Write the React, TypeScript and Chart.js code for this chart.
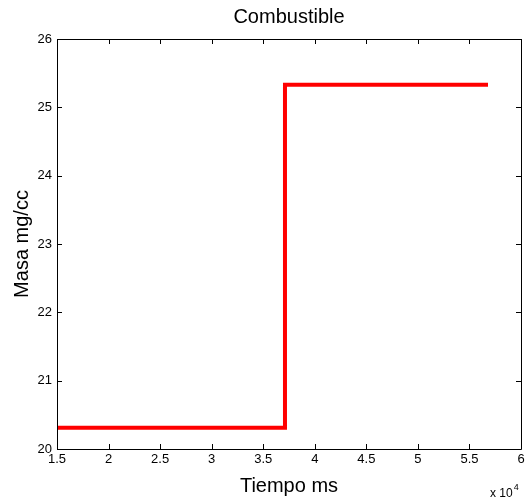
import React, { useEffect, useRef } from "react";
import { Chart, registerables } from "chart.js";

Chart.register(...registerables);

const timeMs = [15000, 37110, 37110, 56800];
const masa = [20.31, 20.31, 25.33, 25.33];
const xTickMin = 15000;
const xTickMax = 60000;
const xTickStep = 5000;
const yTickMin = 20;
const yTickMax = 26;
const yTickStep = 1;
const titleText = "Combustible";
const xTitle = "Tiempo ms";
const yTitle = "Masa mg/cc";
const FONT = "'Liberation Sans', Arial, Helvetica, sans-serif";

const boxPlugin = {
  id: "matlabBox",
  afterDatasetsDraw(chart: any) {
    const { ctx, chartArea } = chart;
    const { left, right, top, bottom } = chartArea;
    const tl = 5;
    ctx.save();
    ctx.strokeStyle = "#000";
    ctx.lineWidth = 1;
    ctx.beginPath();
    ctx.rect(Math.round(left) + 0.5, Math.round(top) + 0.5, Math.round(right - left), Math.round(bottom - top));
    const xs = chart.scales.x;
    xs.ticks.forEach((t: any) => {
      const px = Math.round(xs.getPixelForValue(t.value)) + 0.5;
      ctx.moveTo(px, bottom);
      ctx.lineTo(px, bottom - tl);
      ctx.moveTo(px, top);
      ctx.lineTo(px, top + tl);
    });
    const ys = chart.scales.y;
    ys.ticks.forEach((t: any) => {
      const py = Math.round(ys.getPixelForValue(t.value)) + 0.5;
      ctx.moveTo(left, py);
      ctx.lineTo(left + tl, py);
      ctx.moveTo(right, py);
      ctx.lineTo(right - tl, py);
    });
    ctx.stroke();
    ctx.fillStyle = "#000";
    // title centered over the plot area
    ctx.textAlign = "center";
    ctx.textBaseline = "middle";
    ctx.font = "20px " + FONT;
    ctx.fillText(titleText, (left + right) / 2, 17);
    // exponent label
    ctx.textBaseline = "alphabetic";
    ctx.textAlign = "left";
    ctx.font = "12px " + FONT;
    const bx = right - 31;
    const by = 497;
    ctx.fillText("x 10", bx, by);
    const w = ctx.measureText("x 10").width;
    ctx.font = "9px " + FONT;
    ctx.fillText("4", bx + w + 1, by - 7);
    ctx.restore();
  },
};

export default function App() {
  const ref = useRef<HTMLCanvasElement | null>(null);
  useEffect(() => {
    document.body.style.margin = "0";
    const canvas = ref.current;
    if (!canvas) return;
    const chart = new Chart(canvas, {
      type: "line",
      data: {
        datasets: [
          {
            data: timeMs.map((t, i) => ({ x: t, y: masa[i] })),
            borderColor: "#ff0000",
            backgroundColor: "#ff0000",
            borderWidth: 4,
            pointRadius: 0,
            tension: 0,
            fill: false,
          },
        ],
      },
      options: {
        responsive: false,
        animation: false,
        events: [],
        layout: { padding: { left: 0, right: 7, top: 39, bottom: 0 } },
        plugins: {
          legend: { display: false },
          tooltip: { enabled: false },
          title: { display: false },
        },
        scales: {
          x: {
            type: "linear",
            min: xTickMin,
            max: xTickMax,
            grid: { display: false, drawTicks: false },
            border: { display: false },
            ticks: {
              stepSize: xTickStep,
              color: "#000",
              padding: 3,
              maxRotation: 0,
              font: { family: FONT, size: 13 },
              callback: (v: any) => String(Number(v) / 10000),
            },
            title: {
              display: true,
              text: xTitle,
              color: "#000",
              font: { family: FONT, size: 20 },
              padding: { top: 0, bottom: 3 },
            },
            afterFit: (s: any) => {
              s.height = 52;
            },
          },
          y: {
            type: "linear",
            min: yTickMin,
            max: yTickMax,
            grid: { display: false, drawTicks: false },
            border: { display: false },
            ticks: {
              stepSize: yTickStep,
              color: "#000",
              padding: 5,
              font: { family: FONT, size: 13 },
            },
            title: {
              display: true,
              text: yTitle,
              color: "#000",
              font: { family: FONT, size: 20 },
              padding: { top: 10, bottom: 0 },
            },
            afterFit: (s: any) => {
              s.width = 57;
            },
          },
        },
      },
      plugins: [boxPlugin],
    });
    return () => chart.destroy();
  }, []);
  return (
    <div style={{ width: 528, height: 501, background: "#fff" }}>
      <canvas ref={ref} width={528} height={501} style={{ display: "block" }} />
    </div>
  );
}
